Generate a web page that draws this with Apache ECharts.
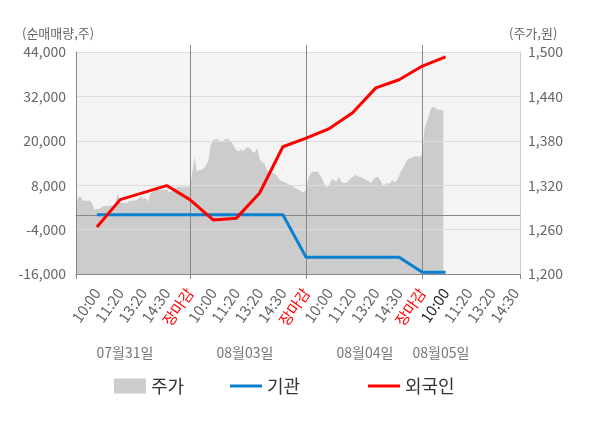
<!DOCTYPE html>
<html>
<head>
<meta charset="utf-8">
<script src="https://cdn.jsdelivr.net/npm/echarts@6/dist/echarts.min.js"></script>
<style>
  html, body { margin: 0; padding: 0; background: #fff; }
  #chart { width: 600px; height: 428px; }
</style>
</head>
<body>
<div id="chart"></div>
<script>
// x축 눈금 라벨 (4거래일, 마지막 날은 장중)
const tickLabels = ['10:00', '11:20', '13:20', '14:30', '장마감',
                    '10:00', '11:20', '13:20', '14:30', '장마감',
                    '10:00', '11:20', '13:20', '14:30', '장마감',
                    '10:00', '11:20', '13:20', '14:30'];
const dateLabels = ['07월31일', '08월03일', '08월04일', '08월05일'];

// 주가 (원) - 세부 틱
const price = [
  1292, 1304, 1304, 1299, 1299, 1299, 1299, 1295, 1286, 1288,
  1288, 1290, 1292, 1292, 1292, 1293, 1292, 1296, 1309, 1296,
  1296, 1296, 1296, 1299, 1299, 1299, 1300, 1302, 1305, 1301,
  1303, 1298, 1308, 1311, 1313, 1314, 1314, 1314, 1314, 1314,
  1311, 1311, 1315, 1317, 1318, 1318, 1318, 1318, 1318, 1318,
  1336, 1358, 1338, 1341, 1341, 1343, 1347, 1354, 1375, 1381,
  1382, 1382, 1379, 1379, 1382, 1382, 1382, 1378, 1372, 1367,
  1366, 1369, 1366, 1370, 1371, 1370, 1365, 1364, 1371, 1356,
  1351, 1350, 1341, 1337, 1337, 1336, 1334, 1330, 1326, 1325,
  1324, 1322, 1320, 1319, 1317, 1315, 1314, 1311, 1310, 1315,
  1329, 1336, 1339, 1338, 1339, 1333, 1329, 1320, 1317, 1320,
  1328, 1327, 1324, 1331, 1325, 1323, 1323, 1325, 1329, 1331,
  1334, 1332, 1331, 1331, 1328, 1327, 1325, 1323, 1328, 1331,
  1331, 1326, 1320, 1321, 1323, 1322, 1327, 1324, 1326, 1333,
  1340, 1345, 1352, 1356, 1356, 1358, 1359, 1359, 1358, 1362,
  1398, 1406, 1417, 1425, 1426, 1423, 1422, 1422, 1422
];

// 누적 순매매량 (주) - 눈금 시점마다
const foreign = [-3300, 4100, 6000, 7900, 4100, -1400, -900, 5900, 18400, 20700,
                 23300, 27600, 34300, 36500, 40200, 42700];
const inst = [0, 0, 0, 0, 0, 0, 0, 0, 0, -11500,
              -11500, -11500, -11500, -11500, -15550, -15550];

const FONT = "'Noto Sans CJK KR', 'Noto Sans', sans-serif";
const STEP = 10;          // 눈금 사이 세부 틱 수
const FIRST = STEP - 1;   // 첫 눈금(10:00) 위치
const DAY = STEP * 5;     // 하루 = 5 눈금
const total = FIRST + STEP * (tickLabels.length - 1) + 3;
const cats = Array.from({ length: total }, (_, i) => String(i));
const lastIdx = FIRST + STEP * (foreign.length - 1);

const toPairs = arr => arr.map((v, k) => [FIRST + STEP * k, v]);
const isDayEnd = i => i % DAY === DAY - 1;

const legendText = { fontSize: 18, color: '#333', fontFamily: FONT };

const chart = echarts.init(document.getElementById('chart'));
const option = {
  animation: false,
  textStyle: { fontFamily: FONT },
  grid: {
    left: 76, right: 80, top: 52, bottom: 154,
    show: true, backgroundColor: '#f4f4f4', borderWidth: 0
  },
  legend: [
    { data: ['주가'], left: 109, top: 372, icon: 'rect', itemWidth: 32, itemHeight: 15,
      textStyle: legendText },
    { data: ['기관'], left: 225, top: 372, icon: 'rect', itemWidth: 32, itemHeight: 3,
      textStyle: legendText },
    { data: ['외국인'], left: 363, top: 372, icon: 'rect', itemWidth: 32, itemHeight: 3,
      textStyle: legendText }
  ],
  xAxis: [
    {
      type: 'category', data: cats, boundaryGap: false, z: 3,
      axisLine: { onZero: false, lineStyle: { color: '#888' } },
      axisTick: {
        interval: i => i === 0 || isDayEnd(i) || i === total - 1,
        length: 5, lineStyle: { color: '#888' }
      },
      axisLabel: {
        interval: i => i % STEP === FIRST,
        rotate: 55, margin: 16, fontSize: 15, color: '#666', fontFamily: FONT,
        formatter: (v, i) => {
          const t = tickLabels[(i - FIRST) / STEP];
          if (t === '장마감') return '{r|' + t + '}';
          if (i === lastIdx) return '{k|' + t + '}';
          return t;
        },
        rich: {
          r: { color: '#ff0000', fontSize: 15, fontFamily: FONT },
          k: { color: '#222', fontSize: 15, fontFamily: FONT }
        }
      },
      splitLine: { show: false }
    },
    {
      // 날짜 구분선
      type: 'category', data: cats, boundaryGap: false, position: 'top', z: 3,
      axisLine: { show: false, onZero: false },
      axisTick: { show: true, interval: isDayEnd, length: 7, lineStyle: { color: '#888' } },
      axisLabel: { show: false },
      splitLine: { show: true, interval: isDayEnd, lineStyle: { color: '#888' } }
    },
    {
      // 0 기준선
      type: 'category', data: cats, boundaryGap: false, position: 'bottom', z: 3,
      axisLine: { show: true, onZero: true, lineStyle: { color: '#888' } },
      axisTick: { show: false },
      axisLabel: { show: false },
      splitLine: { show: false }
    }
  ],
  yAxis: [
    {
      type: 'value', min: -16000, max: 44000, interval: 12000, z: 3,
      axisLine: { show: true, lineStyle: { color: '#888' } },
      axisTick: { show: false },
      axisLabel: {
        formatter: v => v.toLocaleString('en-US'),
        color: '#666', fontSize: 14, margin: 10, fontFamily: FONT
      },
      splitLine: { lineStyle: { color: '#dcdcdc' } }
    },
    {
      type: 'value', min: 1200, max: 1500, interval: 60, position: 'right', z: 3,
      axisLine: { show: true, lineStyle: { color: '#ccc' } },
      axisTick: { show: false },
      axisLabel: {
        formatter: v => v.toLocaleString('en-US'),
        color: '#666', fontSize: 14, margin: 8, fontFamily: FONT
      },
      splitLine: { show: false }
    }
  ],
  series: [
    {
      name: '주가', type: 'line', yAxisIndex: 1, data: price, z: 2,
      showSymbol: false, lineStyle: { width: 0 },
      itemStyle: { color: '#cccccc' },
      areaStyle: { color: '#cccccc', opacity: 1, origin: 'start' }
    },
    {
      name: '기관', type: 'line', yAxisIndex: 0, data: toPairs(inst), z: 5,
      showSymbol: false, itemStyle: { color: '#0a80d0' },
      lineStyle: { color: '#0a80d0', width: 3 }
    },
    {
      name: '외국인', type: 'line', yAxisIndex: 0, data: toPairs(foreign), z: 6,
      showSymbol: false, itemStyle: { color: '#ff0000' },
      lineStyle: { color: '#ff0000', width: 3 }
    }
  ],
  graphic: [
    { type: 'text', x: 22, y: 33, style: { text: '(순매매량,주)', fontSize: 13, fill: '#666',
      fontFamily: FONT, textAlign: 'left', textVerticalAlign: 'middle' } },
    { type: 'text', x: 509, y: 33, style: { text: '(주가,원)', fontSize: 13, fill: '#666',
      fontFamily: FONT, textAlign: 'left', textVerticalAlign: 'middle' } }
  ].concat(dateLabels.map((t, k) => ({
    type: 'text', x: [125, 245, 365, 441][k], y: 353,
    style: { text: t, fontSize: 14, fill: '#777', fontFamily: FONT,
      textAlign: 'center', textVerticalAlign: 'middle' }
  })))
};
chart.setOption(option);
</script>
</body>
</html>
